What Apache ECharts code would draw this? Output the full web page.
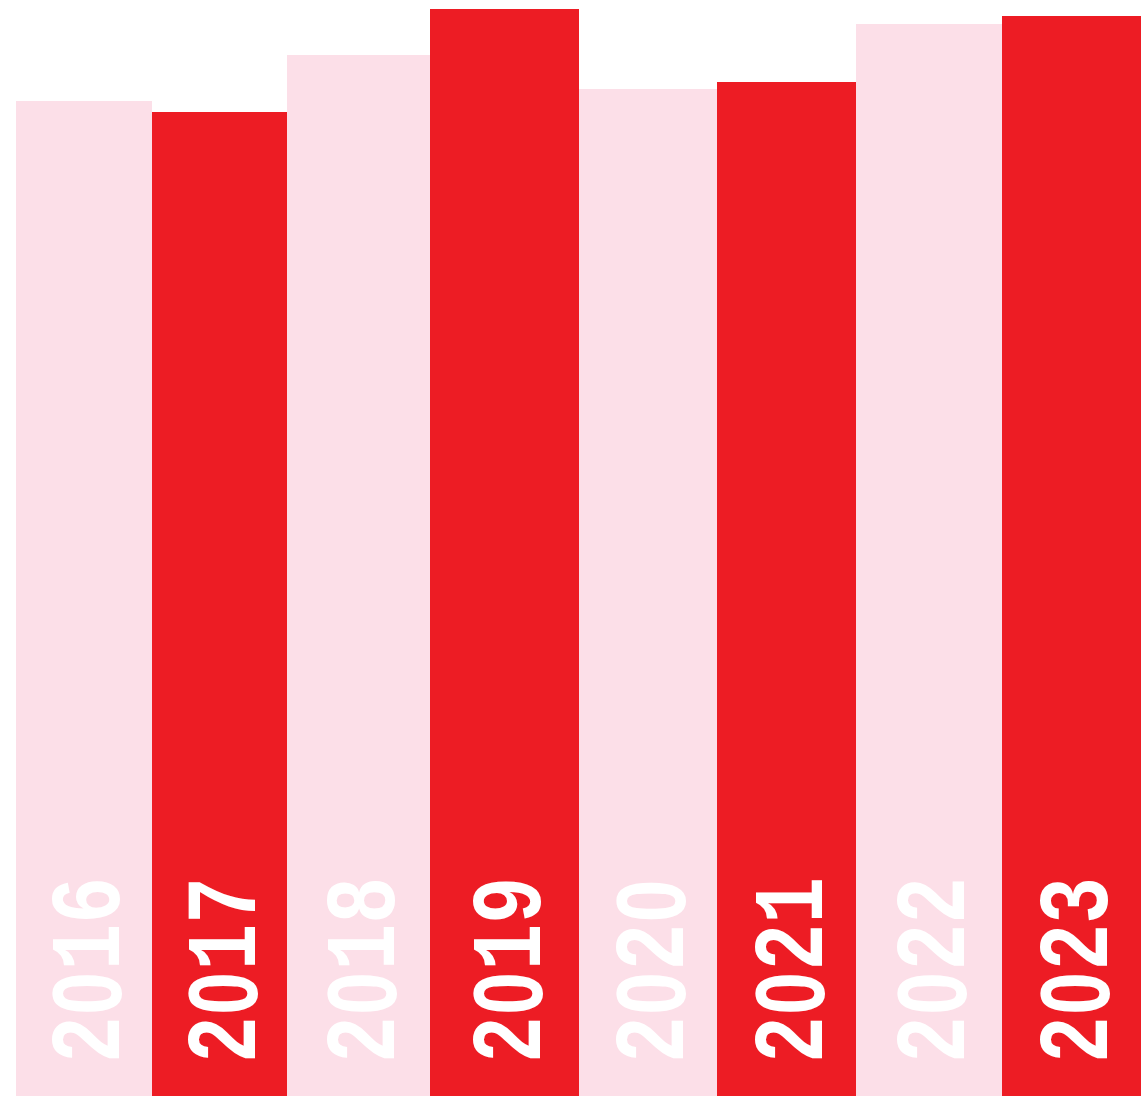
<!DOCTYPE html>
<html>
<head>
<meta charset="utf-8">
<script src="https://cdn.jsdelivr.net/npm/echarts@6/dist/echarts.min.js"></script>
<style>
  html, body { margin: 0; padding: 0; background: #fff; }
  #main { width: 1141px; height: 1096px; }
</style>
</head>
<body>
<div id="main"></div>
<script>
// years, widths of each column and the heights (values)
var years = ['2016', '2017', '2018', '2019', '2020', '2021', '2022', '2023'];
var widths = [136, 135, 143, 149, 138, 139, 146, 139];
var values = [995, 984, 1041, 1087, 1007, 1014, 1072, 1080];
var colors = ['#FCDFE8', '#ED1C24'];

var myChart = echarts.init(document.getElementById('main'));

var data = [];
var start = 0;
for (var i = 0; i < years.length; i++) {
  data.push([start, start + widths[i], values[i]]);
  start += widths[i];
}

// zero without the dot: draw it in a sans font
function richYear(s) {
  return s.split('').map(function (c) {
    return c === '0' ? '{z|0}' : '{m|' + c + '}';
  }).join('');
}

function renderItem(params, api) {
  var p0 = api.coord([api.value(0), api.value(2)]);
  var p1 = api.coord([api.value(1), 0]);
  var cx = (p0[0] + p1[0]) / 2;
  return {
    type: 'group',
    children: [{
      type: 'rect',
      shape: { x: p0[0], y: p0[1], width: p1[0] - p0[0], height: p1[1] - p0[1] },
      style: { fill: colors[params.dataIndex % 2] }
    }, {
      type: 'text',
      x: cx + 10,
      y: p1[1] - 33,
      rotation: Math.PI / 2,
      scaleX: 0.78,
      style: {
        text: richYear(years[params.dataIndex]),
        fill: '#fff',
        align: 'left',
        verticalAlign: 'middle',
        rich: {
          m: { fontFamily: 'Liberation Mono', fontWeight: 'bold', fontSize: 100, fill: '#fff' },
          z: { fontFamily: 'Liberation Sans', fontWeight: 'bold', fontSize: 98, fill: '#fff', padding: [0, 2, 0, 2] }
        }
      }
    }]
  };
}

var option = {
  animation: false,
  grid: { left: 16, right: 0, top: 0, bottom: 0 },
  xAxis: { type: 'value', min: 0, max: start, show: false },
  yAxis: { type: 'value', min: 0, max: 1096, show: false },
  series: [{
    type: 'custom',
    renderItem: renderItem,
    encode: { x: [0, 1], y: 2 },
    data: data
  }]
};
myChart.setOption(option);
</script>
</body>
</html>
